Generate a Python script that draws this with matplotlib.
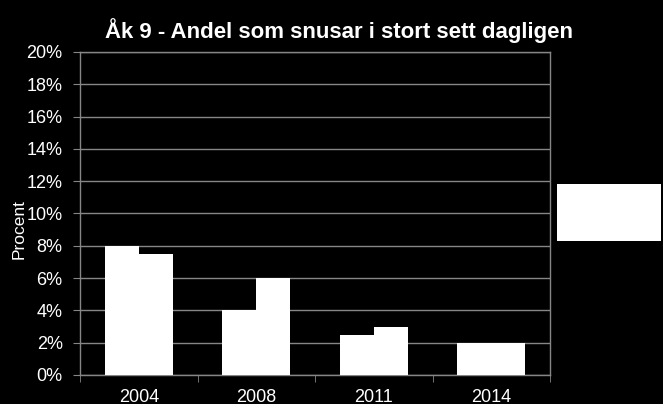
import matplotlib
matplotlib.use("Agg")
import matplotlib.pyplot as plt
from matplotlib.patches import Rectangle
import numpy as np

plt.rcParams["font.family"] = ["Liberation Sans", "DejaVu Sans"]

years  = ["2004", "2008", "2011", "2014"]
serie1 = [8.0, 4.0, 2.5, 2.0]
serie2 = [7.5, 6.0, 3.0, 2.0]
yticks = [0, 2, 4, 6, 8, 10, 12, 14, 16, 18, 20]

GRAY = "#868686"

fig = plt.figure(figsize=(6.63, 4.04), dpi=100, facecolor="black")
ax = fig.add_axes([0.1207, 0.0718, 0.709, 0.7995], facecolor="black")

x = np.arange(len(years))
w = 0.29
ax.bar(x - w/2, serie1, width=w, color="white", zorder=3)
ax.bar(x + w/2, serie2, width=w, color="white", zorder=3)

ax.set_xlim(-0.5, len(years) - 0.5)
ax.set_ylim(0, 20)
ax.set_yticks(yticks)
ax.set_yticklabels([f"{v}%" for v in yticks])
ax.yaxis.grid(True, color=GRAY, linewidth=1, zorder=0)

ax.set_xticks(x)
ax.set_xticklabels(years)
ax.set_xticks(np.arange(len(years) + 1) - 0.5, minor=True)
ax.tick_params(axis="x", which="major", length=0, pad=10, labelsize=13, colors="white")
ax.tick_params(axis="x", which="minor", length=5, color=GRAY, direction="out")
ax.tick_params(axis="y", length=5, color=GRAY, direction="out", labelsize=13,
               labelcolor="white", pad=7.5)

for s in ax.spines.values():
    s.set_color(GRAY)
    s.set_linewidth(1)

ax.set_ylabel("Procent", color="white", fontsize=12.5)
ax.yaxis.set_label_coords(-0.113, 0.452)
fig.suptitle("Åk 9 - Andel som snusar i stort sett dagligen", color="white",
             fontsize=16, fontweight="bold", x=0.511, y=0.955)

# empty white legend box
fig.patches.append(Rectangle((557/663, 1 - 241/404), 104/663, 57/404,
                             transform=fig.transFigure, facecolor="white",
                             edgecolor="none"))

plt.savefig("out.png", dpi=100, facecolor="black")
